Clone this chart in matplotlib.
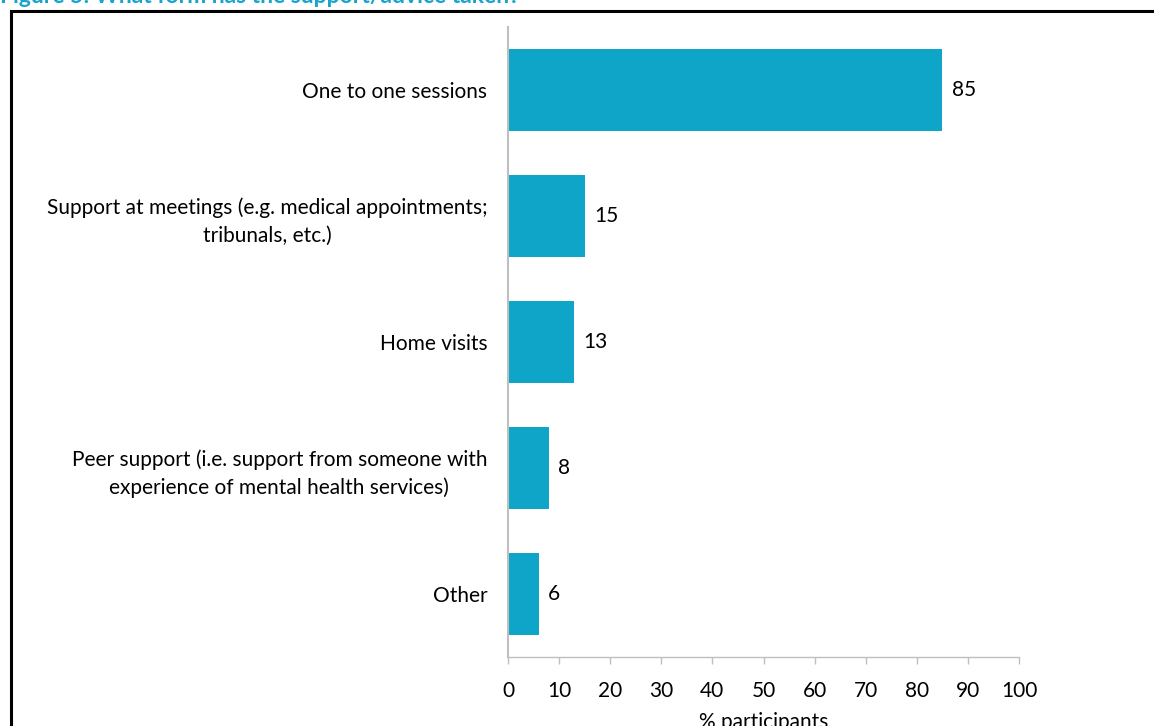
import numpy as np
import matplotlib.pyplot as plt
from matplotlib.patches import Rectangle

categories = [
    "One to one sessions",
    "Support at meetings (e.g. medical appointments;\ntribunals, etc.)",
    "Home visits",
    "Peer support (i.e. support from someone with\nexperience of mental health services)",
    "Other",
]
values = [85, 15, 13, 8, 6]
xticks = list(range(0, 101, 10))

title = "Figure 5: What form has the support/advice taken?"
xlabel = "% participants"

bar_color = "#0EA5C8"
axis_grey = "#BFBFBF"
font = ["Lato", "DejaVu Sans"]
plt.rcParams['font.family'] = font
fs = 15

W, H = 1154, 726
fig = plt.figure(figsize=(W / 100, H / 100), dpi=100)

# axes placed in pixel terms: x 508..1019, y 27..657 (from top)
ax = fig.add_axes([508 / W, 1 - 657 / H, (1019 - 508) / W, (657 - 27) / H])

y = np.arange(len(categories))
ax.barh(y, values, height=0.65, color=bar_color)
ax.set_ylim(len(categories) - 0.5, -0.5)
ax.set_xlim(0, 100)

for yi, v in zip(y, values):
    ax.text(v + 1.8, yi, str(v), va="center", ha="left", fontsize=fs, color="black")

ax.set_yticks(y)
ax.set_yticklabels(categories, fontsize=fs)
for lab in ax.get_yticklabels():
    lab.set_multialignment("center")
    lab.set_linespacing(1.45)
ax.tick_params(axis="y", length=0, pad=15)

ax.set_xticks(xticks)
ax.set_xticklabels([str(t) for t in xticks], fontsize=fs)
ax.tick_params(axis="x", length=5, width=1, color=axis_grey, pad=12)
ax.set_xlabel(xlabel, fontsize=fs, labelpad=8)

for side in ["top", "right"]:
    ax.spines[side].set_visible(False)
ax.spines["left"].set_color(axis_grey)
ax.spines["bottom"].set_color(axis_grey)
ax.spines["left"].set_linewidth(1.5)
ax.spines["bottom"].set_linewidth(1)

# frame around the chart, running off the right and bottom edges
fig.patches.append(Rectangle((10.5 / W, -0.1), 1.2, 1 - 11.5 / H + 0.1,
                             transform=fig.transFigure, fill=False,
                             edgecolor="black", linewidth=2.2))

fig.text(0, 1 + 3 / H, title, ha="left", va="center", fontsize=16.5,
         fontweight="bold", color="#1AA3CC")

fig.savefig("out.png", dpi=100)
